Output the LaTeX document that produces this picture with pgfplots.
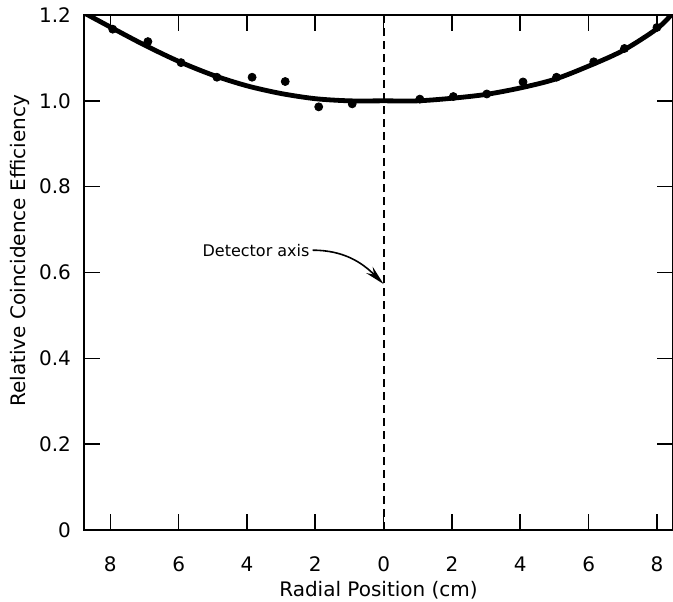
\documentclass[border=0pt]{standalone}
\usepackage{pgfplots}
\pgfplotsset{compat=1.18}
\usepackage{fontspec}
\setmainfont{DejaVu Sans}
\usetikzlibrary{arrows.meta}
\begin{document}
\begin{tikzpicture}
\useasboundingbox (-42pt,-35.5pt) rectangle (294.5pt,265pt);
\begin{axis}[
  at={(0,0)}, anchor=south west,
  scale only axis, width=294.5pt, height=257.5pt,
  xmin=-8.77, xmax=8.47, ymin=0, ymax=1.2,
  xtick={-8,-6,-4,-2,0,2,4,6,8},
  xticklabels={8,6,4,2,0,2,4,6,8},
  ytick={0,0.2,0.4,0.6,0.8,1.0,1.2},
  yticklabels={0,0.2,0.4,0.6,0.8,1.0,1.2},
  tick align=inside, major tick length=8pt,
  axis line style={line width=1pt},
  tick style={line width=0.8pt, black},
  font=\fontsize{10}{12}\selectfont,
  xticklabel style={yshift=-10pt},
  yticklabel style={xshift=-3pt},
  xlabel={Radial Position (cm)},
  ylabel={Relative Coincidence Efficiency},
  xlabel style={at={(axis description cs:0.5,-0.117)}, anchor=center},
  ylabel style={at={(axis description cs:-0.109,0.542)}, anchor=center},
]
% dashed detector axis
\addplot[black, line width=0.9pt, dash pattern=on 4pt off 2.5pt] coordinates {(0,0) (0,1.2)};
% fitted curve
\addplot[black, line width=2.4pt, smooth] coordinates {
(-8.77,1.205) (-8,1.172) (-7,1.130) (-6,1.092) (-5,1.060) (-4,1.035)
(-3,1.017) (-2,1.005) (-1,1.0) (0,1.0) (1,1.0) (2,1.006)
(3,1.015) (4,1.030) (5,1.050) (6,1.081) (7,1.117) (8,1.168) (8.47,1.205)};
% measured points
\addplot[only marks, mark=*, mark size=2pt, black] coordinates {
(-7.93,1.167) (-6.90,1.138) (-5.93,1.089) (-4.88,1.055) (-3.85,1.055) (-2.88,1.045)
(-1.90,0.986) (-0.92,0.993) (1.06,1.004) (2.04,1.010) (3.02,1.016) (4.08,1.044)
(5.06,1.055) (6.15,1.091) (7.05,1.122) (8.0,1.171)};
\node[font=\fontsize{8}{10}\selectfont, anchor=east, inner sep=1pt] at (axis cs:-2.1,0.652) {Detector axis};
\draw[line width=0.8pt, -{Stealth[length=10pt,width=4.5pt]}] (axis cs:-2.08,0.652) to[out=0,in=135] (axis cs:0,0.573);
\end{axis}
\end{tikzpicture}
\end{document}
